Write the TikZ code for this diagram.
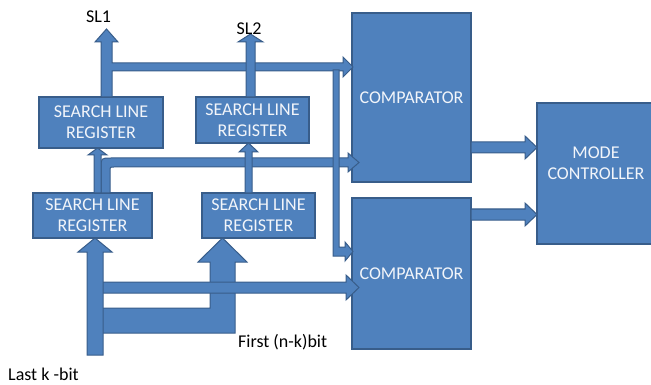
\documentclass[tikz,border=0pt]{standalone}
\usepackage{fontspec}
\setmainfont{Carlito}
\definecolor{blk}{HTML}{4F81BD}
\definecolor{edge}{HTML}{385D8A}
\definecolor{btxt}{HTML}{F2F5FA}
\tikzset{
  blockbox/.style={draw=edge, fill=blk, line width=1.2pt, inner sep=0pt},
  boxtext/.style={text=btxt, align=center, inner sep=0pt, font=\fontsize{18}{21}\selectfont},
  barrow/.style={draw=edge, fill=blk, line width=1pt, line join=miter},
  lbl/.style={font=\fontsize{18}{20}\selectfont, text=black, inner sep=0pt}
}
\begin{document}
\begin{tikzpicture}[x=1pt,y=-1pt]
\useasboundingbox (0,0) rectangle (651,385);
% blocks
\node[blockbox, minimum width=124pt, minimum height=51pt] (slrA) at (101,122.5) {};
\node[boxtext] at (slrA.center) {SEARCH LINE\\REGISTER};
\node[blockbox, minimum width=113pt, minimum height=46pt] (slrB) at (252.5,120) {};
\node[boxtext] at (slrB.center) {SEARCH LINE\\REGISTER};
\node[blockbox, minimum width=119pt, minimum height=45pt] (slrC) at (92.5,215.5) {};
\node[boxtext] at (slrC.center) {SEARCH LINE\\REGISTER};
\node[blockbox, minimum width=113pt, minimum height=45pt] (slrD) at (258.5,215.5) {};
\node[boxtext] at (slrD.center) {SEARCH LINE\\REGISTER};
\node[blockbox, minimum width=119pt, minimum height=169pt] (cmpA) at (411.5,97.5) {};
\node[boxtext] at (cmpA.center) {COMPARATOR};
\node[blockbox, minimum width=119pt, minimum height=151pt] (cmpB) at (411.5,273.5) {};
\node[boxtext] at (cmpB.center) {COMPARATOR};
\node[blockbox, minimum width=117pt, minimum height=141pt] (mode) at (595.5,173.5) {};
\node[boxtext] at (596,163) {MODE\\CONTROLLER};
% comparator -> mode controller
\draw[barrow] (471,142) -- (525,142) -- (525,136) -- (537,147.5) -- (525,159) -- (525,153) -- (471,153) -- cycle;
\draw[barrow] (471,209) -- (525,209) -- (525,203) -- (537,214.5) -- (525,226) -- (525,220) -- (471,220) -- cycle;
% bottom L-shaped arrow (first n-k bits)
\draw[barrow] (102,308) -- (210,308) -- (210,262) -- (198,262) -- (222.5,238) -- (247,262) -- (235,262) -- (235,333) -- (102,333) -- cycle;
% horizontal arrow to comparator 2
\draw[barrow] (102,282) -- (346,282) -- (346,275) -- (359,287.5) -- (346,300) -- (346,293) -- (102,293) -- cycle;
% big left up arrow (last k bits)
\draw[barrow] (87,355) -- (87,252) -- (78,252) -- (95,238) -- (112,252) -- (103,252) -- (103,355) -- cycle;
% SL1 and branch to comparator 1
\draw[barrow] (101,97) -- (101,42) -- (95,42) -- (106.5,29) -- (118,42) -- (112,42) -- (112,63) -- (343,63) -- (343,57) -- (353,67) -- (343,77) -- (343,71) -- (112,71) -- (112,97) -- cycle;
% SL2
\draw[barrow] (246,97) -- (246,42) -- (238,42) -- (250.5,34) -- (263,42) -- (255,42) -- (255,97) -- cycle;
% curved branch from lower left register to comparator 1
\draw[barrow] (101,193) -- (101,168) .. controls (101,158) .. (111,158) -- (348,158) -- (348,153) -- (359,162.5) -- (348,172) -- (348,167) -- (114,167) .. controls (110,167) .. (110,171) -- (110,193) -- cycle;
% lower left register -> upper left register
\draw[barrow] (94,193) -- (94,155) -- (88,155) -- (97.5,148) -- (107,155) -- (101,155) -- (101,193) -- cycle;
% lower right register -> upper right register
\draw[barrow] (245,193) -- (245,152) -- (239,152) -- (248.5,143) -- (258,152) -- (252,152) -- (252,193) -- cycle;
% thin vertical bar to comparator 2
\draw[barrow] (333,70) -- (339,70) -- (339,247) -- (345,247) -- (345,242) -- (353,251.5) -- (345,261) -- (345,256) -- (333,256) -- cycle;
% labels
\node[lbl] (sl1) at (98.5,17) {SL1};
\node[lbl] (sl2) at (249,29) {SL2};
\node[lbl, anchor=west] (first) at (238,342) {First (n-k)bit};
\node[lbl, anchor=west] (last) at (8,374) {Last k -bit};
\end{tikzpicture}
\end{document}
